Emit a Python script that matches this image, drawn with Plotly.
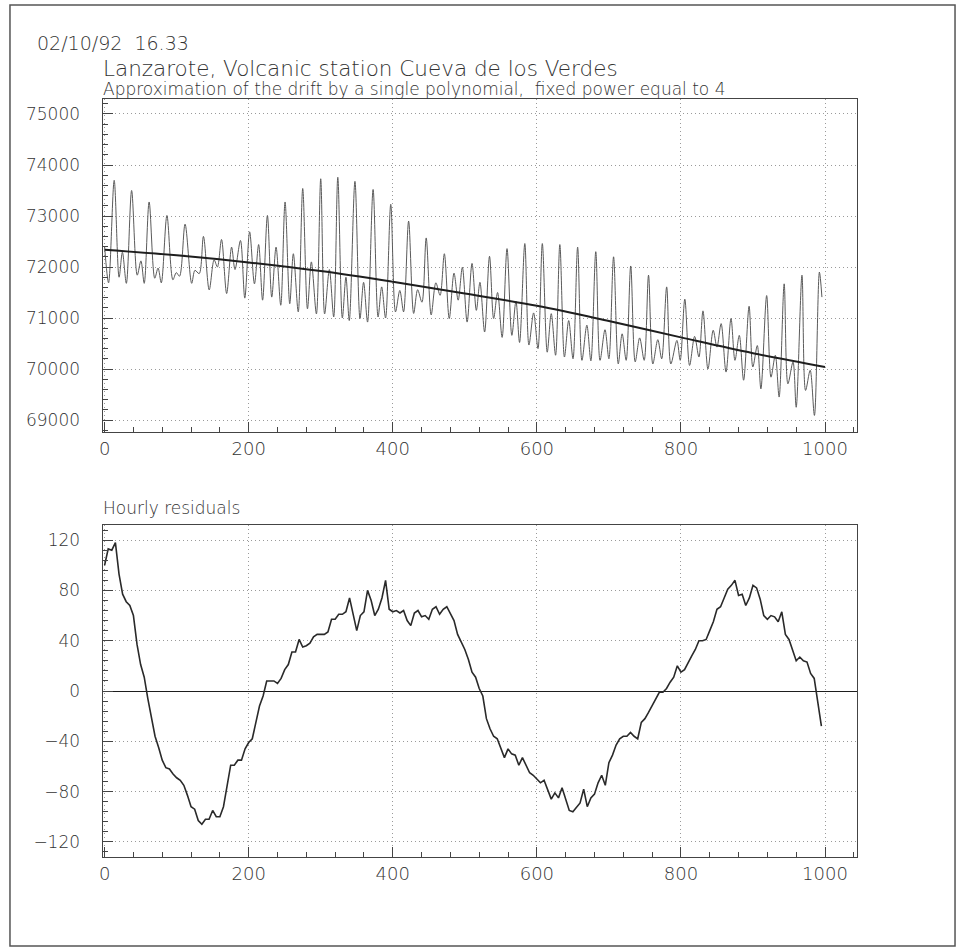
import plotly.graph_objects as go

# ---------------- data ----------------
# Top panel: gravity signal, local extrema (hour, value)
sig_hours = [0, 5.5, 13.3, 20.1, 24.7, 30.2, 37.5, 45.3, 50.4, 55, 61.8, 69.6, 74.2, 78.7,
             86.5, 94.8, 99.5, 104, 111.7, 120.9, 125.4, 131.3, 137.2, 145.2, 152, 156.6,
             162.3, 169.4, 176.3, 181, 188.6, 194.6, 201.3, 208, 213.8, 219.3, 226, 232,
             238, 244.5, 250.5, 257, 262, 268.8, 275, 281.6, 287, 294, 300, 305.4, 312,
             318, 323.7, 330, 335, 339.6, 347.5, 354.5, 359.5, 365, 372.7, 379.6, 384.6,
             390, 397.2, 403.8, 409.8, 415, 422, 429, 434.5, 440.5, 446.4, 453.3, 459.8,
             465.7, 471.6, 478.4, 485, 490.8, 496.6, 503.2, 510, 516, 521, 527.5, 534.3,
             540, 545.5, 551.8, 558.6, 565.3, 571, 576, 583.3, 589, 595.5, 601.6, 607.6,
             614.4, 620, 626, 631.9, 638.3, 644.2, 650.2, 656.6, 662.6, 669.4, 675, 681.8,
             687.7, 694.6, 700, 706.5, 713, 718.4, 724, 730.3, 736.5, 742.7, 749, 755, 761,
             767.9, 773.3, 780.2, 786, 794.4, 799, 805.4, 812, 819, 825, 830.6, 837.5,
             844.8, 850, 855.8, 862.6, 869.5, 875, 881, 887, 894.6, 899.8, 906, 911, 919,
             925, 931, 936.3, 943.3, 948.5, 955.6, 960, 968, 973, 979.4, 985.3, 992.2, 995.7]
sig_values = [72400, 71690, 73700, 71800, 72290, 71680, 73500, 71840, 72120, 71680, 73275,
              71780, 71980, 71690, 73010, 71750, 71890, 71820, 72840, 71680, 71935, 71870,
              72600, 71550, 72140, 72000, 72540, 71480, 72390, 71950, 72520, 71390, 72690,
              71670, 72440, 71350, 73010, 71410, 72390, 71250, 73275, 71280, 72260, 71120,
              73540, 71180, 72100, 71080, 73730, 71080, 71950, 71020, 73760, 71000, 71800,
              70950, 73680, 70990, 71700, 70920, 73520, 71020, 71610, 71000, 73230, 71120,
              71540, 71120, 72900, 71090, 71555, 71310, 72570, 71060, 71690, 71445, 72260,
              70990, 71880, 71350, 71995, 70920, 72070, 71150, 71700, 70725, 72210, 70990,
              71500, 70620, 72360, 70660, 71330, 70520, 72460, 70470, 71100, 70400, 72460,
              70330, 71085, 70270, 72440, 70235, 70950, 70200, 72390, 70170, 70860, 70160,
              72300, 70170, 70770, 70200, 72200, 70100, 70690, 70170, 72020, 70140, 70610,
              70170, 71840, 70100, 70575, 70200, 71610, 70100, 70560, 70170, 71370, 70070,
              70640, 70235, 71140, 70000, 70760, 70430, 70890, 69940, 70990, 70170, 70660,
              69780, 71230, 70040, 70460, 69610, 71440, 69840, 70270, 69450, 71670, 69710,
              70140, 69250, 71840, 69580, 69975, 69090, 71900, 71410]

# Top panel: polynomial drift
drift_hours = [0, 100, 200, 300, 400, 500, 600, 700, 800, 900, 1000]
drift_values = [72340, 72230, 72090, 71920, 71710, 71480, 71240, 70940, 70620, 70310, 70040]

# Bottom panel: hourly residuals (every 5 hours)
res_hours = list(range(0, 1000, 5))
res_values = [100, 113, 112, 118, 93, 77, 71, 68, 60, 37, 21, 11, -6, -21, -36, -45, -55, -61,
              -62, -66, -69, -71, -75, -83, -92, -94, -103, -106, -102, -102, -95, -100, -100,
              -92, -75, -59, -59, -55, -55, -46, -41, -38, -25, -12, -4, 8, 8, 8, 6, 10, 17,
              21, 31, 31, 41, 35, 36, 38, 43, 45, 45, 45, 47, 57, 57, 61, 61, 63, 74, 60, 48,
              60, 63, 80, 72, 60, 65, 74, 88, 65, 63, 64, 62, 64, 56, 52, 62, 64, 59, 60, 57,
              65, 67, 61, 65, 67, 61, 56, 45, 39, 33, 25, 15, 11, 2, -4, -22, -30, -36, -38,
              -45, -53, -46, -50, -51, -59, -53, -59, -65, -67, -70, -73, -71, -78, -86, -81,
              -85, -77, -86, -95, -96, -92, -89, -78, -92, -85, -82, -73, -67, -75, -57, -51,
              -43, -38, -36, -36, -33, -36, -38, -25, -22, -17, -12, -6, -1, -1, 2, 7, 11, 20,
              15, 17, 23, 28, 33, 40, 40, 41, 48, 55, 65, 67, 74, 81, 84, 88, 76, 77, 68, 74,
              84, 82, 73, 60, 57, 60, 59, 55, 63, 45, 41, 33, 24, 27, 24, 23, 14, 10, -9, -28]

x_ticks = [0, 200, 400, 600, 800, 1000]
top_ticks = [69000, 70000, 71000, 72000, 73000, 74000, 75000]
bot_ticks = [-120, -80, -40, 0, 40, 80, 120]

# ---------------- figure ----------------
FONT = "DejaVu Sans"
INK = "#333333"
AXC = "#444444"
GRID = "#9a9a9a"
DOT = "1px,3px"

fig = go.Figure()
fig.add_trace(go.Scatter(x=sig_hours, y=sig_values, mode="lines",
                         line=dict(color="#5a5a5a", width=1, shape="spline", smoothing=0.9),
                         xaxis="x", yaxis="y", hoverinfo="skip"))
fig.add_trace(go.Scatter(x=drift_hours, y=drift_values, mode="lines",
                         line=dict(color="#1e1e1e", width=2, shape="spline"),
                         xaxis="x", yaxis="y", hoverinfo="skip"))
fig.add_trace(go.Scatter(x=res_hours, y=res_values, mode="lines",
                         line=dict(color="#2a2a2a", width=1.6),
                         xaxis="x2", yaxis="y2", hoverinfo="skip"))

W, H = 961, 950
xdom = [99 / W, 857 / W]
top_dom = [1 - 432 / H, 1 - 99 / H]
bot_dom = [1 - 857 / H, 1 - 525 / H]

xtickfont = dict(family=FONT, size=18, color=INK, weight=200)
ytickfont = dict(family=FONT, size=17, color=INK, weight=200)

def xaxis_cfg(domain, anchor):
    return dict(domain=domain, anchor=anchor, range=[-2.8, 1045], tickvals=x_ticks,
                ticks="inside", ticklen=10, tickcolor=AXC, tickwidth=1,
                minor=dict(dtick=40, tick0=0, ticks="inside", ticklen=5, tickcolor=AXC,
                           showgrid=False),
                showline=True, linecolor=AXC, linewidth=1.2, mirror=True,
                showgrid=True, gridcolor=GRID, griddash=DOT, gridwidth=1,
                zeroline=False, tickfont=xtickfont, ticklabelstandoff=0)

def yaxis_cfg(domain, anchor, rng, ticks, minor_dt, zero):
    d = dict(domain=domain, anchor=anchor, range=rng, tickvals=ticks, tickformat="d",
             ticks="inside", ticklen=10, tickcolor=AXC,
             minor=dict(dtick=minor_dt, tick0=0, ticks="inside", ticklen=5, tickcolor=AXC,
                        showgrid=False),
             showline=True, linecolor=AXC, linewidth=1.2, mirror=True,
             showgrid=True, gridcolor=GRID, griddash=DOT, gridwidth=1,
             zeroline=zero, tickfont=ytickfont, ticklabelstandoff=18)
    if zero:
        d.update(zerolinecolor="#1e1e1e", zerolinewidth=1.2)
    return d

fig.update_layout(
    width=W, height=H, autosize=False,
    margin=dict(l=0, r=0, t=0, b=0),
    paper_bgcolor="white", plot_bgcolor="white",
    showlegend=False,
    xaxis=xaxis_cfg(xdom, "y"),
    xaxis2=xaxis_cfg(xdom, "y2"),
    yaxis=yaxis_cfg(top_dom, "x", [68765, 75294], top_ticks, 200, False),
    yaxis2=yaxis_cfg(bot_dom, "x2", [-132, 132], bot_ticks, 8, True),
)

def note(text, x, y, size):
    fig.add_annotation(text=text, x=x / W, y=1 - y / H, xref="paper", yref="paper",
                       xanchor="left", yanchor="middle", showarrow=False,
                       font=dict(family=FONT, size=size, color=INK, weight=200))

note("02/10/92  16.33", 31, 43, 19)
note("Lanzarote, Volcanic station Cueva de los Verdes", 97, 68, 21.5)
note("Approximation of the drift by a single polynomial,  fixed power equal to 4", 97, 89, 17)
note("Hourly residuals", 97, 508, 17)

# page frame
fig.add_shape(type="rect", xref="paper", yref="paper",
              x0=6 / W, x1=955 / W, y0=1 - 946 / H, y1=1 - 5 / H,
              line=dict(color="#555555", width=1.5), fillcolor="rgba(0,0,0,0)")

fig.write_html("out.html", config={"displayModeBar": False},
               post_script="document.body.style.margin='0px';")
